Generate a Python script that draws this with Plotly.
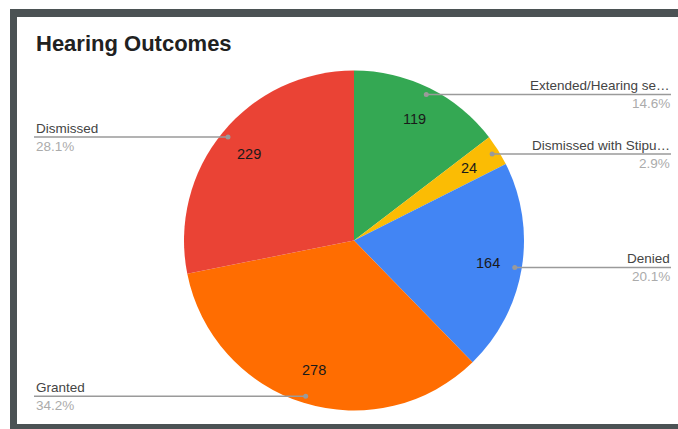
import math
import plotly.graph_objects as go

# Slice data, clockwise from 12 o'clock
labels = ["Extended/Hearing se…", "Dismissed with Stipu…", "Denied", "Granted", "Dismissed"]
values = [119, 24, 164, 278, 229]
colors = ["#34A853", "#FBBC04", "#4285F4", "#FF6D01", "#EA4335"]
title = "Hearing Outcomes"

W, H = 678, 429
CX, CY, R = 354, 240.5, 170          # pie centre / radius in pixels
DOT_R = 163                          # radius where leader lines start
NUM_R = 0.8 * R                      # radius of the in-slice value labels
LEFT_X, RIGHT_X = 34, 671            # outer ends of the leader lines
FONT = "Arial, Liberation Sans, sans-serif"


def px(x):
    return x / W


def py(y):
    return 1 - y / H


fig = go.Figure()
fig.add_trace(go.Pie(
    labels=labels, values=values, sort=False, direction="clockwise", rotation=0,
    marker=dict(colors=colors, line=dict(width=0)),
    textinfo="none", hoverinfo="skip", showlegend=False,
    domain=dict(x=[px(CX - R), px(CX + R)], y=[py(CY + R), py(CY - R)]),
))

shapes = [
    # dark frame around the card
    dict(type="rect", xref="paper", yref="paper", x0=px(10), x1=px(W + 20), y0=py(9), y1=py(H + 20),
         fillcolor="#4b5254", line=dict(width=0), layer="below"),
    dict(type="rect", xref="paper", yref="paper", x0=px(17), x1=px(W + 20), y0=py(17), y1=py(424),
         fillcolor="#ffffff", line=dict(width=0), layer="below"),
]
annotations = [
    dict(text=f"<b>{title}</b>", x=px(34), y=py(44), xref="paper", yref="paper",
         xanchor="left", yanchor="middle", showarrow=False,
         font=dict(family=FONT, size=22, color="#212121")),
]

total = sum(values)
cum = 0
for lab, val in zip(labels, values):
    mid = (cum + val / 2) / total * 2 * math.pi
    cum += val
    s, c = math.sin(mid), math.cos(mid)

    # value inside the slice
    annotations.append(dict(
        text=str(val), x=px(CX + NUM_R * s), y=py(CY - NUM_R * c), xref="paper", yref="paper",
        xanchor="center", yanchor="middle", showarrow=False,
        font=dict(family=FONT, size=14.5, color="#1a1a1a")))

    # leader line with dot, label above and percentage below
    dx, dy = CX + DOT_R * s, CY - DOT_R * c
    right = s > 0
    end_x = RIGHT_X if right else LEFT_X
    shapes.append(dict(type="line", xref="paper", yref="paper", x0=px(dx), x1=px(end_x),
                       y0=py(dy), y1=py(dy), line=dict(color="#9a9a9a", width=1.5), layer="above"))
    shapes.append(dict(type="circle", xref="paper", yref="paper", x0=px(dx - 2.5), x1=px(dx + 2.5),
                       y0=py(dy - 2.5), y1=py(dy + 2.5), fillcolor="#9a9a9a",
                       line=dict(width=0), layer="above"))
    anchor = "right" if right else "left"
    tx = end_x + (1 if right else 0)
    pct = f"{val / total * 100:.1f}%"
    annotations.append(dict(
        text=lab, x=px(tx), y=py(dy - 8.5), xref="paper", yref="paper",
        xanchor=anchor, yanchor="middle", showarrow=False,
        font=dict(family=FONT, size=13.5, color="#444444")))
    annotations.append(dict(
        text=pct, x=px(tx), y=py(dy + 9.5), xref="paper", yref="paper",
        xanchor=anchor, yanchor="middle", showarrow=False,
        font=dict(family=FONT, size=13.5, color="#ababab")))

fig.update_layout(
    width=W, height=H, margin=dict(l=0, r=0, t=0, b=0),
    paper_bgcolor="#ffffff", plot_bgcolor="#ffffff",
    shapes=shapes, annotations=annotations,
)

fig.write_html("out.html")
